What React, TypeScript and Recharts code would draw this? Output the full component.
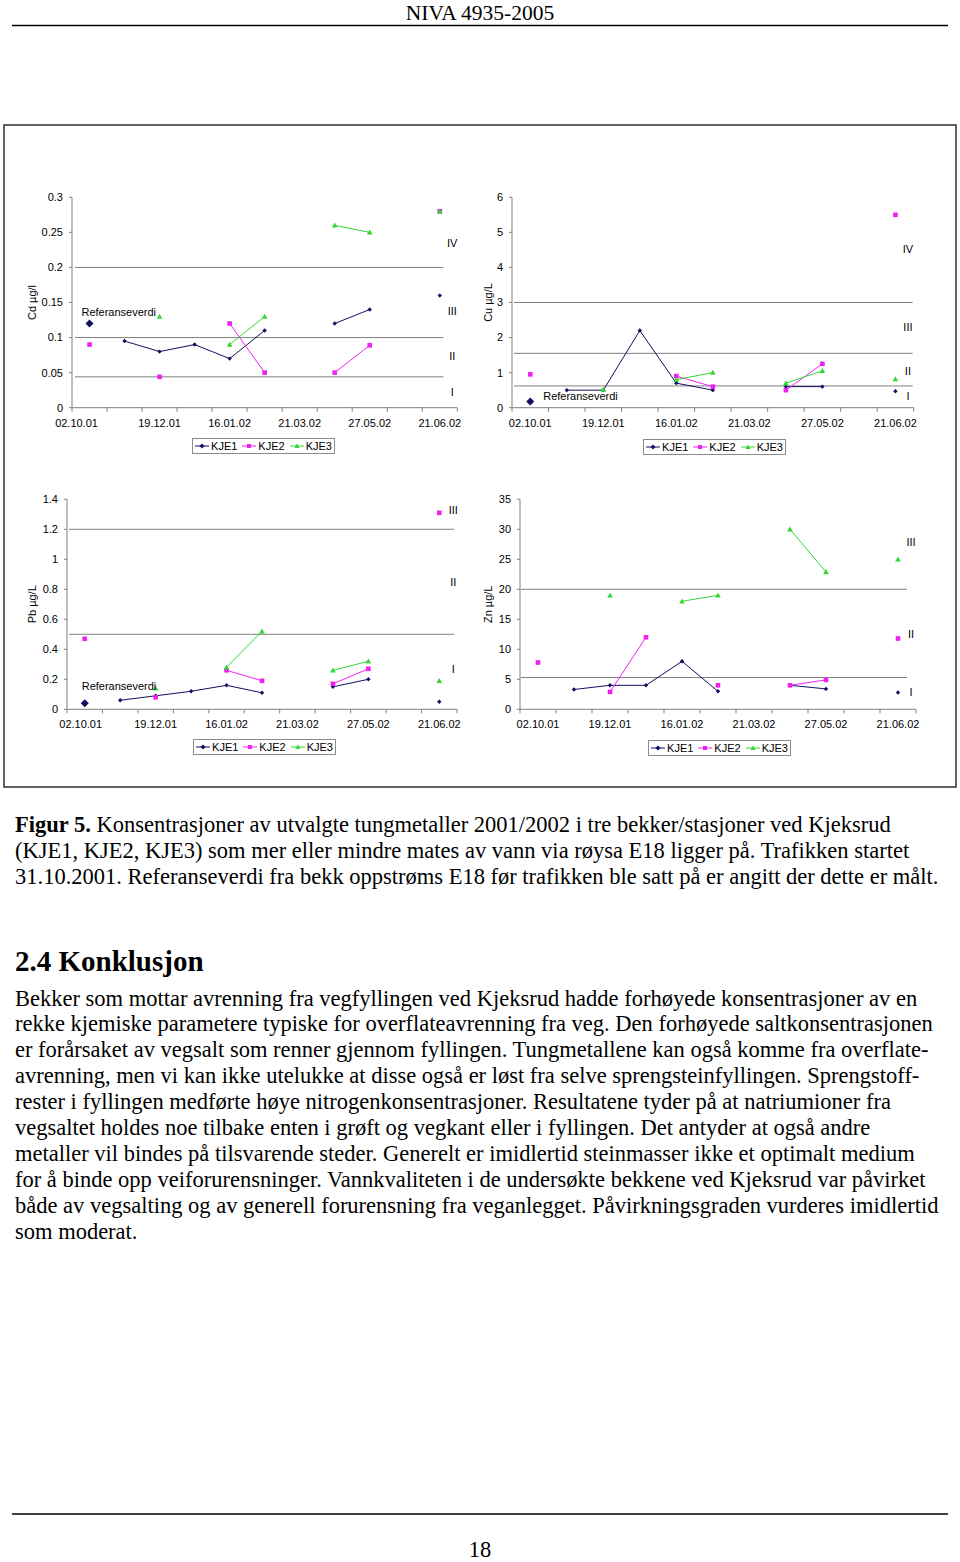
import React from "react";
import { LineChart, Line, XAxis, YAxis, ReferenceLine, ReferenceDot } from "recharts";

// sampling dates (only every second one is labelled on the axis)
const dates = ["02.10.01", "31.10.01", "19.12.01", "03.01.02", "16.01.02", "20.02.02", "21.03.02", "24.04.02", "27.05.02", "10.06.02", "21.06.02"];
const classNames = ["I", "II", "III", "IV"];
const seriesNames = ["KJE1", "KJE2", "KJE3"];

// Cd
const cdKJE1 = [null, 0.095, 0.08, 0.09, 0.07, 0.11, null, 0.12, 0.14, null, 0.16];
const cdKJE2 = [0.09, null, 0.044, null, 0.12, 0.05, null, 0.05, 0.089, null, 0.28];
const cdKJE3 = [null, null, 0.13, null, 0.09, 0.13, null, 0.26, 0.25, null, 0.28];
const cdRef = [0.12, null, null, null, null, null, null, null, null, null, null];
const cdTicks = [0, 0.05, 0.1, 0.15, 0.2, 0.25, 0.3];
const cdLimits = [0.044, 0.1, 0.2];
const cdClassPos = [0.023, 0.074, 0.138, 0.235];

// Cu
const cuKJE1 = [null, 0.5, 0.5, 2.2, 0.7, 0.5, null, 0.6, 0.6, null, 0.47];
const cuKJE2 = [0.95, null, null, null, 0.9, 0.6, null, 0.5, 1.25, null, 5.5];
const cuKJE3 = [null, null, 0.52, null, 0.8, 1.0, null, 0.7, 1.05, null, 0.82];
const cuRef = [0.18, null, null, null, null, null, null, null, null, null, null];
const cuTicks = [0, 1, 2, 3, 4, 5, 6];
const cuLimits = [0.62, 1.55, 3];
const cuClassPos = [0.33, 1.05, 2.31, 4.52];

// Pb
const pbKJE1 = [null, 0.06, 0.09, 0.12, 0.16, 0.11, null, 0.15, 0.2, null, 0.05];
const pbKJE2 = [0.47, null, 0.08, null, 0.26, 0.19, null, 0.17, 0.27, null, 1.31];
const pbKJE3 = [null, null, 0.14, null, 0.28, 0.52, null, 0.26, 0.32, null, 0.19];
const pbRef = [0.04, null, null, null, null, null, null, null, null, null, null];
const pbTicks = [0, 0.2, 0.4, 0.6, 0.8, 1, 1.2, 1.4];
const pbLimits = [0.5, 1.2];
const pbClassPos = [0.267, 0.851, 1.329];

// Zn
const znKJE1 = [null, 3.3, 4, 4, 8, 3, null, 4, 3.4, null, 2.8];
const znKJE2 = [7.8, null, 2.9, 12, null, 4, null, 4, 4.9, null, 11.8];
const znKJE3 = [null, null, 19, null, 18, 19, null, 30, 22.9, null, 25];
const znTicks = [0, 5, 10, 15, 20, 25, 30, 35];
const znLimits = [5.3, 20];
const znClassPos = [2.94, 12.5, 27.94];

const C1 = "#101060";
const C2 = "#f020f0";
const C3 = "#33d633";
const GRID = "#7f7f7f";
const SANS = "'Liberation Sans', Arial, sans-serif";
const SERIF = "'Liberation Serif', 'Times New Roman', serif";

const diamond = (color: string, r: number) => (props: any) => {
  const { cx, cy, index } = props;
  if (cx == null || cy == null) return <g key={index} />;
  return <path key={index} d={`M${cx},${cy - r}L${cx + r},${cy}L${cx},${cy + r}L${cx - r},${cy}Z`} fill={color} />;
};
const square = (color: string, r: number) => (props: any) => {
  const { cx, cy, index } = props;
  if (cx == null || cy == null) return <g key={index} />;
  return <rect key={index} x={cx - r} y={cy - r} width={2 * r} height={2 * r} fill={color} />;
};
const triangle = (color: string, r: number) => (props: any) => {
  const { cx, cy, index } = props;
  if (cx == null || cy == null) return <g key={index} />;
  return <path key={index} d={`M${cx},${cy - r}L${cx + r},${cy + r * 0.8}L${cx - r},${cy + r * 0.8}Z`} fill={color} />;
};

function LegendBox({ left, top }: { left: number; top: number }) {
  const icons = [
    <path d="M7,1.5L9.5,4L7,6.5L4.5,4Z" fill={C1} />,
    <rect x={5} y={2} width={4} height={4} fill={C2} />,
    <path d="M7,1.5L9.6,6L4.4,6Z" fill={C3} />,
  ];
  const colors = [C1, C2, C3];
  return (
    <div
      style={{
        position: "absolute", left, top, width: 141, height: 14, border: "1px solid #8a8a8a",
        display: "flex", alignItems: "center", justifyContent: "center", gap: 5,
        fontFamily: SANS, fontSize: 11, background: "#fff",
      }}
    >
      {seriesNames.map((n, i) => (
        <div key={n} style={{ display: "flex", alignItems: "center", gap: 2 }}>
          <svg width={14} height={8}>
            <line x1={0} x2={14} y1={4} y2={4} stroke={colors[i]} />
            {icons[i]}
          </svg>
          <span>{n}</span>
        </div>
      ))}
    </div>
  );
}

type PanelProps = {
  yLabel: string; yLabelX: number;
  kje1: (number | null)[]; kje2: (number | null)[]; kje3: (number | null)[];
  refv?: (number | null)[]; refDx?: number; refDy?: number;
  ticks: number[]; limits: number[]; classPos: number[];
  top: number; plotLeft: number; plotRight: number; plotTop: number; plotBottom: number;
  insetL: number; insetR: number; romanDx: number; firstShift: number;
};

function Panel(p: PanelProps) {
  const yW = 62;
  const chartLeft = p.plotLeft - yW;
  const xH = 25;
  const height = p.plotBottom - p.top + xH;
  const width = p.plotRight - chartLeft + 12;
  const bw = (p.plotRight - p.plotLeft) / dates.length;
  const data = dates.map((d, i) => ({
    date: d, kje1: p.kje1[i], kje2: p.kje2[i], kje3: p.kje3[i], ref: p.refv ? p.refv[i] : null,
  }));
  const midY = (p.plotTop + p.plotBottom) / 2 - p.top;
  const lx = p.yLabelX - chartLeft;

  const renderTick = (t: any) => {
    const i = t.payload.index;
    return (
      <g key={i}>
        <line x1={t.x - bw / 2} x2={t.x - bw / 2} y1={t.y} y2={t.y + 4} stroke={GRID} />
        {i === dates.length - 1 && <line x1={t.x + bw / 2} x2={t.x + bw / 2} y1={t.y} y2={t.y + 4} stroke={GRID} />}
        {i % 2 === 0 && (
          <text x={t.x + (i === 0 ? p.firstShift : 0)} y={t.y + 19} textAnchor="middle" fontSize={11} fontFamily={SANS} fill="#000">
            {t.payload.value}
          </text>
        )}
      </g>
    );
  };

  return (
    <div style={{ position: "absolute", left: chartLeft, top: p.top }}>
      <LineChart width={width} height={height} data={data} margin={{ top: p.plotTop - p.top, right: 12, bottom: 0, left: 0 }}>
        <XAxis
          dataKey="date" scale="band" interval={0} height={xH} tickSize={0} tickMargin={0}
          tickLine={false} stroke={GRID} tick={renderTick}
        />
        <YAxis
          type="number" domain={[0, p.ticks[p.ticks.length - 1]]} ticks={p.ticks} width={yW}
          tickSize={3} tickMargin={6} stroke={GRID} interval={0}
          tick={{ fill: "#000", fontSize: 11, fontFamily: SANS }}
          label={{
            content: () => (
              <text transform={`translate(${lx},${midY}) rotate(-90)`} textAnchor="middle" dominantBaseline="central" fontSize={11} fontFamily={SANS} fill="#000">
                {p.yLabel}
              </text>
            ),
          }}
        />
        {p.limits.map((v) => (
          <ReferenceLine
            key={v} y={v} stroke={GRID}
            shape={(s: any) => <line x1={s.x1 + p.insetL} x2={s.x2 - p.insetR} y1={s.y1} y2={s.y2} stroke={GRID} strokeWidth={1} />}
          />
        ))}
        {p.classPos.map((v, i) => (
          <ReferenceDot
            key={"c" + i} x={dates[dates.length - 1]} y={v} r={0} ifOverflow="visible"
            shape={(s: any) => (
              <text x={s.cx + p.romanDx} y={s.cy + 4} textAnchor="middle" fontSize={11} fontFamily={SANS} fill="#000">
                {classNames[i]}
              </text>
            )}
          />
        ))}
        <Line dataKey="kje1" stroke={C1} strokeWidth={1} dot={diamond(C1, 2.2)} activeDot={false} isAnimationActive={false} />
        <Line dataKey="kje2" stroke={C2} strokeWidth={1} dot={square(C2, 2.3)} activeDot={false} isAnimationActive={false} />
        <Line dataKey="kje3" stroke={C3} strokeWidth={1} dot={triangle(C3, 2.8)} activeDot={false} isAnimationActive={false} />
        {p.refv && (
          <Line
            dataKey="ref" stroke="none" dot={diamond(C1, 4)} activeDot={false} isAnimationActive={false}
            label={(l: any) =>
              l.value == null ? <g key={l.index} /> : (
                <text key={l.index} x={l.x + (p.refDx || 0)} y={l.y + (p.refDy || 0)} fontSize={11} fontFamily={SANS} fill="#000">
                  Referanseverdi
                </text>
              )
            }
          />
        )}
      </LineChart>
    </div>
  );
}

const captionLines = [
  "(KJE1, KJE2, KJE3) som mer eller mindre mates av vann via røysa E18 ligger på. Trafikken startet",
  "31.10.2001. Referanseverdi fra bekk oppstrøms E18 før trafikken ble satt på er angitt der dette er målt.",
];
const bodyLines = [
  "Bekker som mottar avrenning fra vegfyllingen ved Kjeksrud hadde forhøyede konsentrasjoner av en",
  "rekke kjemiske parametere typiske for overflateavrenning fra veg. Den forhøyede saltkonsentrasjonen",
  "er forårsaket av vegsalt som renner gjennom fyllingen. Tungmetallene kan også komme fra overflate-",
  "avrenning, men vi kan ikke utelukke at disse også er løst fra selve sprengsteinfyllingen. Sprengstoff-",
  "rester i fyllingen medførte høye nitrogenkonsentrasjoner. Resultatene tyder på at natriumioner fra",
  "vegsaltet holdes noe tilbake enten i grøft og vegkant eller i fyllingen. Det antyder at også andre",
  "metaller vil bindes på tilsvarende steder. Generelt er imidlertid steinmasser ikke et optimalt medium",
  "for å binde opp veiforurensninger. Vannkvaliteten i de undersøkte bekkene ved Kjeksrud var påvirket",
  "både av vegsalting og av generell forurensning fra veganlegget. Påvirkningsgraden vurderes imidlertid",
  "som moderat.",
];

export default function App() {
  return (
    <div style={{ position: "absolute", left: 0, top: 0, width: 960, height: 1562, background: "#fff", overflow: "hidden" }}>
      <svg width={960} height={1562} style={{ position: "absolute", left: 0, top: 0 }} fontFamily={SERIF}>
        <text x={480} y={19.5} textAnchor="middle" fontSize={21.5}>NIVA 4935-2005</text>
        <line x1={12} x2={948} y1={25.5} y2={25.5} stroke="#000" strokeWidth={1.5} />
        <rect x={4} y={125} width={952} height={662} fill="none" stroke="#333" strokeWidth={1.5} />
        <text x={15} y={832.3} fontSize={22.5}>
          <tspan fontWeight="bold">Figur 5.</tspan> Konsentrasjoner av utvalgte tungmetaller 2001/2002 i tre bekker/stasjoner ved Kjeksrud
        </text>
        {captionLines.map((t, i) => (
          <text key={t} x={15} y={832.3 + 25.9 * (i + 1)} fontSize={22.5}>{t}</text>
        ))}
        <text x={15} y={971} fontSize={29} fontWeight="bold">2.4 Konklusjon</text>
        {bodyLines.map((t, i) => (
          <text key={t} x={15} y={1005.5 + 25.9 * i} fontSize={22.5}>{t}</text>
        ))}
        <line x1={12} x2={948} y1={1514} y2={1514} stroke="#000" strokeWidth={1.5} />
        <text x={480} y={1556.5} textAnchor="middle" fontSize={22.5}>18</text>
      </svg>

      <Panel
        yLabel="Cd µg/l" yLabelX={32} kje1={cdKJE1} kje2={cdKJE2} kje3={cdKJE3} refv={cdRef} refDx={-8} refDy={-8}
        ticks={cdTicks} limits={cdLimits} classPos={cdClassPos}
        top={180} plotLeft={71.7} plotRight={457} plotTop={197.3} plotBottom={407.7}
        insetL={3} insetR={14} romanDx={12.5} firstShift={-13}
      />
      <Panel
        yLabel="Cu µg/L" yLabelX={488} kje1={cuKJE1} kje2={cuKJE2} kje3={cuKJE3} refv={cuRef} refDx={13} refDy={-1}
        ticks={cuTicks} limits={cuLimits} classPos={cuClassPos}
        top={180} plotLeft={512.3} plotRight={914} plotTop={197.3} plotBottom={407.7}
        insetL={2} insetR={1} romanDx={12.5} firstShift={0}
      />
      <Panel
        yLabel="Pb µg/L" yLabelX={32} kje1={pbKJE1} kje2={pbKJE2} kje3={pbKJE3} refv={pbRef} refDx={-3} refDy={-13}
        ticks={pbTicks} limits={pbLimits} classPos={pbClassPos}
        top={480} plotLeft={66.7} plotRight={456.7} plotTop={499.3} plotBottom={709.3}
        insetL={2} insetR={3} romanDx={14} firstShift={-4}
      />
      <Panel
        yLabel="Zn µg/L" yLabelX={488} kje1={znKJE1} kje2={znKJE2} kje3={znKJE3}
        ticks={znTicks} limits={znLimits} classPos={znClassPos}
        top={480} plotLeft={520} plotRight={916} plotTop={499.3} plotBottom={709.3}
        insetL={1} insetR={9} romanDx={13} firstShift={0}
      />

      <LegendBox left={192} top={438} />
      <LegendBox left={643} top={439} />
      <LegendBox left={193} top={739} />
      <LegendBox left={648} top={740} />
    </div>
  );
}
